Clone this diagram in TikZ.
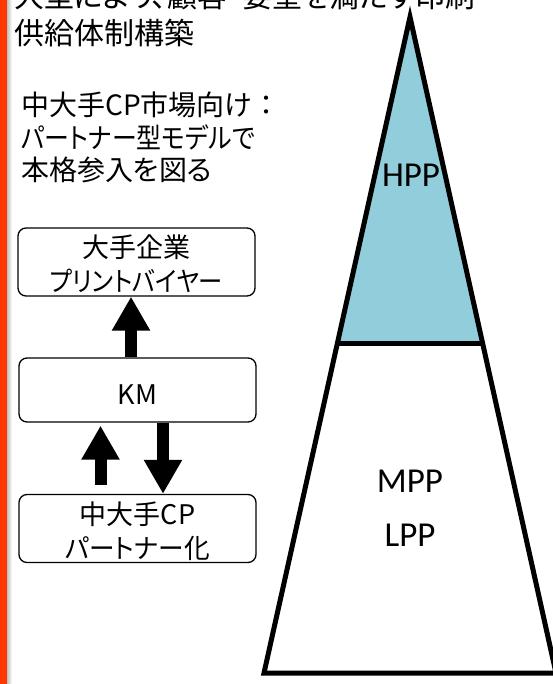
\documentclass[tikz,border=0pt]{standalone}
\usepackage{fontspec}
\setmainfont{Noto Sans CJK JP}[RawFeature={+palt}]
\newfontfamily\fullw{Noto Sans CJK JP}
\newfontfamily\latinlbl{Carlito}
\usetikzlibrary{arrows.meta,calc}
\definecolor{barred}{RGB}{255,56,0}
\definecolor{hppblue}{RGB}{146,205,220}
\newcommand{\narrow}[2]{\scalebox{#1}[1]{#2}}
\newcommand{\lowerby}[2]{\raisebox{-#1}[\height][\depth]{#2}}
\tikzset{
  box/.style={draw, line width=1.3pt, rounded corners=8pt, minimum width=237pt, minimum height=64pt, inner sep=0pt, align=center, font=\fontsize{27}{34}\selectfont},
  blockarrow/.style={line width=12pt, -{Triangle[width=36pt,length=34pt]}},
  txt/.style={inner sep=0pt, align=left},
  lbl/.style={inner sep=0pt, font=\latinlbl\fontsize{35}{40}\selectfont}
}
\begin{document}
\begin{tikzpicture}[x=1pt,y=-1pt]
\useasboundingbox (0,0) rectangle (552,684);
% left bar
\fill[barred] (0,0) rectangle (7,684);
\shade[left color=black!25, right color=white] (7,0) rectangle (12,684);
% title
\node[txt, anchor=west, font=\fontsize{30}{37}\selectfont] (title) at (14,15) {大型によリ、顧客・要望を満たす印刷\\供給体制構築};
% subtitle
\node[txt, anchor=north west, font=\fontsize{28}{32.5}\selectfont] (sub) at (21,92) {中大手CP市場向け{\fullw ：}\\\narrow{0.89}{パートナー型モデルで}\\本格参入を図る};
% boxes
\node[box] (buyer) at (136.5,262) {\lowerby{6pt}{\begin{tabular}{@{}c@{}}大手企業\\\narrow{0.9}{プリントバイヤー}\end{tabular}}};
\node[box] (km) at (137.5,390) {\lowerby{4.5pt}{KM}};
\node[box] (cp) at (137.5,528.5) {\lowerby{6.5pt}{\begin{tabular}{@{}c@{}}中大手CP\\\narrow{0.95}{パートナー化}\end{tabular}}};
% arrows
\draw[blockarrow] ([xshift=-6.5pt]km.north) -- ([xshift=-5.5pt]buyer.south);
\draw[blockarrow, shorten <=9pt, shorten >=3pt] ([xshift=-37pt]cp.north) -- ([xshift=-37pt]km.south);
\draw[blockarrow] ([xshift=25.5pt]km.south) -- ([xshift=25.5pt]cp.north);
% pyramid
\coordinate (apex) at (410,17);
\coordinate (bl) at (264,673);
\coordinate (br) at (556,673);
\coordinate (ml) at ($(apex)!0.4970!(bl)$);
\coordinate (mr) at ($(apex)!0.4970!(br)$);
\fill[hppblue] (apex) -- (ml) -- (mr) -- cycle;
\draw[line width=5pt] (ml) -- (mr);
\draw[line width=5pt, line join=miter] (apex) -- (bl) -- (br) -- cycle;
\node[lbl] (hpp) at (411,175) {HPP};
\node[lbl] (mpp) at (410,481) {MPP};
\node[lbl] (lpp) at (410,535) {LPP};
\end{tikzpicture}
\end{document}
